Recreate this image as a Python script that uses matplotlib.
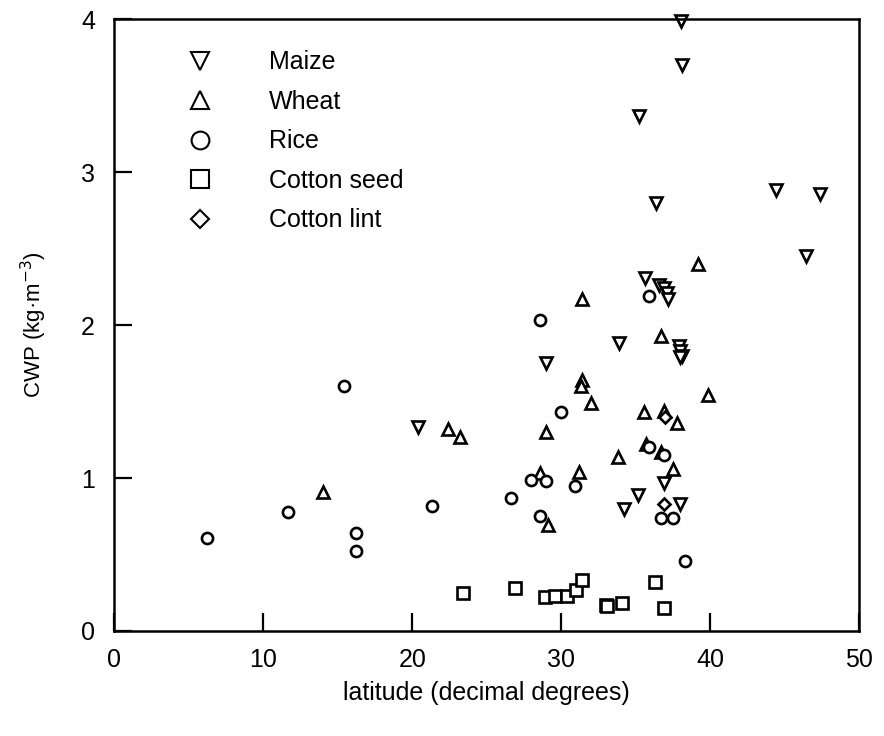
import matplotlib
matplotlib.use("Agg")
import matplotlib.pyplot as plt

plt.rcParams['font.family'] = ['Liberation Sans', 'DejaVu Sans']

maize_x = [38.05, 38.1, 35.2, 44.4, 47.4, 36.4, 46.45, 35.6, 36.6, 36.9, 37.1, 37.2,
           33.9, 37.9, 38.0, 38.1, 37.95, 29.0, 20.4, 36.9, 35.15, 34.2, 37.95]
maize_y = [3.99, 3.70, 3.37, 2.88, 2.86, 2.80, 2.45, 2.31, 2.26, 2.24, 2.21, 2.17,
           1.88, 1.86, 1.83, 1.80, 1.79, 1.75, 1.335, 0.97, 0.89, 0.80, 0.83]

wheat_x = [39.2, 31.4, 36.7, 31.4, 31.3, 39.85, 32.0, 35.55, 36.9, 37.8, 29.0, 22.4,
           23.2, 14.0, 33.8, 37.5, 31.2, 28.6, 29.1, 35.7, 36.7]
wheat_y = [2.40, 2.17, 1.93, 1.64, 1.60, 1.54, 1.49, 1.43, 1.44, 1.36, 1.30, 1.32,
           1.27, 0.91, 1.14, 1.06, 1.04, 1.03, 0.69, 1.22, 1.17]

rice_x = [6.2, 11.65, 15.4, 16.25, 16.25, 21.3, 26.65, 28.6, 35.9, 30.0, 28.0, 29.0,
          30.9, 28.6, 36.7, 37.5, 38.3, 35.9, 36.9]
rice_y = [0.61, 0.78, 1.60, 0.64, 0.52, 0.82, 0.87, 2.03, 2.19, 1.43, 0.99, 0.98,
          0.95, 0.75, 0.74, 0.74, 0.46, 1.20, 1.15]

seed_x = [23.4, 26.9, 28.9, 29.6, 30.4, 31.0, 31.4, 33.0, 33.1, 34.1, 36.3, 36.9]
seed_y = [0.25, 0.28, 0.22, 0.23, 0.23, 0.27, 0.33, 0.17, 0.16, 0.18, 0.32, 0.15]

lint_x = [37.0, 36.9]
lint_y = [1.40, 0.83]

labels = ['Maize', 'Wheat', 'Rice', 'Cotton seed', 'Cotton lint']
x_ticks = [0, 10, 20, 30, 40, 50]
y_ticks = [0, 1, 2, 3, 4]

fig = plt.figure(figsize=(8.84, 7.36), dpi=100)
ax = fig.add_axes([0.1295, 0.1427, 0.8422, 0.8313])

series = [(maize_x, maize_y, 'v', 8.5), (wheat_x, wheat_y, '^', 8.5),
          (rice_x, rice_y, 'o', 8.0), (seed_x, seed_y, 's', 8.5),
          (lint_x, lint_y, 'D', 6.0)]
for (xs, ys, m, ms), lab in zip(series, labels):
    ax.plot(xs, ys, linestyle='none', marker=m, markersize=ms, markerfacecolor='white',
            markeredgecolor='black', markeredgewidth=1.9, label=lab, clip_on=False)

ax.set_xlim(0, 50)
ax.set_ylim(0, 4)
ax.set_xticks(x_ticks)
ax.set_yticks(y_ticks)
ax.tick_params(direction='in', length=13, width=1.6, labelsize=18, top=False, right=False)
ax.tick_params(axis='x', pad=12)
ax.tick_params(axis='y', pad=14)
for s in ax.spines.values():
    s.set_linewidth(1.8)

ax.set_xlabel('latitude (decimal degrees)', fontsize=18, labelpad=7)
ax.set_ylabel('CWP (kg·m$^{-3}$)', fontsize=16, labelpad=23)

leg = ax.legend(loc='upper left', bbox_to_anchor=(0.0813, 0.949), frameon=False,
                fontsize=18, markerscale=1.6, handlelength=2.0, handletextpad=1.76,
                borderpad=0, borderaxespad=0, labelspacing=0.62)
for h in leg.legend_handles:
    h.set_markeredgewidth(1.5)

fig.savefig('out.png', dpi=100)
